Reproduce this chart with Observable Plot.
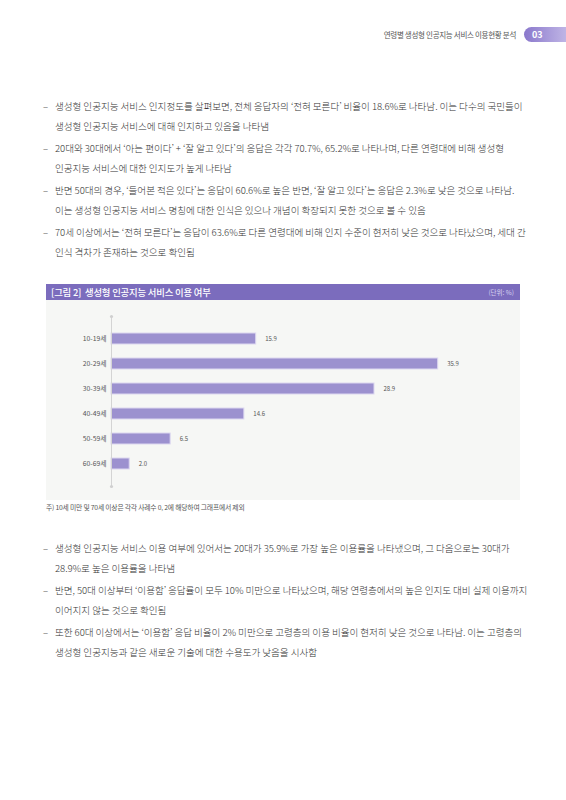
<!DOCTYPE html>
<html>
<head>
<meta charset="utf-8">
<script src="https://cdn.jsdelivr.net/npm/d3@7"></script>
<script src="https://cdn.jsdelivr.net/npm/@observablehq/plot@0.6"></script>
<style>
  html, body { margin: 0; padding: 0; background: #fff; }
  body { width: 566px; height: 800px; position: relative; overflow: hidden;
         font-family: "Noto Sans CJK KR", "Noto Sans", sans-serif; color: #333; }
  .abs { position: absolute; white-space: nowrap; }
  .hdr { font-size: 7.5px; color: #555; letter-spacing: -0.3px; }
  .badge { left: 524px; top: 27px; width: 50px; height: 15px; border-radius: 8px;
           background: linear-gradient(90deg, #8a78cc, #c9c0ea); color: #fff;
           font-size: 9px; font-weight: bold; line-height: 15px; padding-left: 8px; box-sizing: border-box; }
  .p { font-size: 9.6px; color: #333; letter-spacing: -0.06px; font-weight: 300; }
  .dash { left: 43px; }
  .tbar { left: 46px; top: 284px; width: 474px; height: 16px; background: #7b6cbd; }
  .ttl { left: 51px; top: 284px; font-size: 9.4px; line-height: 16px; color: #fff; font-weight: 500; letter-spacing: -0.2px; }
  .unit { right: 52px; top: 284px; font-size: 6.5px; line-height: 16px; color: #d8d2f0; }
  .chartbg { left: 46px; top: 300px; width: 474px; height: 200px; background: #f6f7f5; }
  #chart { position: absolute; left: 46px; top: 300px; }
  .note { left: 46px; top: 502px; font-size: 6.8px; color: #555; letter-spacing: -0.2px; }
</style>
</head>
<body>
<div class="abs hdr" style="right:50px; top:27px; line-height:15px;">연령별 생성형 인공지능 서비스 이용현황 분석</div>
<div class="abs badge">03</div>

<div id="text1"></div>

<div class="abs tbar"></div>
<div class="abs ttl">[그림 2]&nbsp;&nbsp;생성형 인공지능 서비스 이용 여부</div>
<div class="abs unit" style="right:52px;">(단위: %)</div>
<div class="abs chartbg"></div>
<div id="chart"></div>
<div class="abs note">주) 10세 미만 및 70세 이상은 각각 사례수 0, 2에 해당하여 그래프에서 제외</div>

<div id="text2"></div>

<script>
const ageGroups = ["10-19세", "20-29세", "30-39세", "40-49세", "50-59세", "60-69세"];
const usageRates = [15.9, 35.9, 28.9, 14.6, 6.5, 2.0];

const para1 = [
  ["생성형 인공지능 서비스 인지정도를 살펴보면, 전체 응답자의 ‘전혀 모른다’ 비율이 18.6%로 나타남. 이는 다수의 국민들이", "생성형 인공지능 서비스에 대해 인지하고 있음을 나타냄"],
  ["20대와 30대에서 ‘아는 편이다’ + ‘잘 알고 있다’의 응답은 각각 70.7%, 65.2%로 나타나며, 다른 연령대에 비해 생성형", "인공지능 서비스에 대한 인지도가 높게 나타남"],
  ["반면 50대의 경우, ‘들어본 적은 있다’는 응답이 60.6%로 높은 반면, ‘잘 알고 있다’는 응답은 2.3%로 낮은 것으로 나타남.", "이는 생성형 인공지능 서비스 명칭에 대한 인식은 있으나 개념이 확장되지 못한 것으로 볼 수 있음"],
  ["70세 이상에서는 ‘전혀 모른다’는 응답이 63.6%로 다른 연령대에 비해 인지 수준이 현저히 낮은 것으로 나타났으며, 세대 간", "인식 격차가 존재하는 것으로 확인됨"]
];
const para2 = [
  ["생성형 인공지능 서비스 이용 여부에 있어서는 20대가 35.9%로 가장 높은 이용률을 나타냈으며, 그 다음으로는 30대가", "28.9%로 높은 이용률을 나타냄"],
  ["반면, 50대 이상부터 ‘이용함’ 응답률이 모두 10% 미만으로 나타났으며, 해당 연령층에서의 높은 인지도 대비 실제 이용까지", "이어지지 않는 것으로 확인됨"],
  ["또한 60대 이상에서는 ‘이용함’ 응답 비율이 2% 미만으로 고령층의 이용 비율이 현저히 낮은 것으로 나타남. 이는 고령층의", "생성형 인공지능과 같은 새로운 기술에 대한 수용도가 낮음을 시사함"]
];

function renderParas(container, paras, top0) {
  const el = document.getElementById(container);
  let y = top0;
  paras.forEach(lines => {
    lines.forEach((line, i) => {
      if (i === 0) {
        const d = document.createElement("div");
        d.className = "abs p dash";
        d.style.top = (y - 7) + "px";
        d.textContent = "–";
        el.appendChild(d);
      }
      const s = document.createElement("div");
      s.className = "abs p";
      s.style.left = "55px";
      s.style.top = (y - 7) + "px";
      s.textContent = line;
      el.appendChild(s);
      y += 20.3;
    });
    y += 1.4;
  });
}
renderParas("text1", para1, 106);
renderParas("text2", para2, 548);

const data = ageGroups.map((a, i) => ({age: a, value: usageRates[i]}));

const chart = Plot.plot({
  width: 474,
  height: 200,
  marginLeft: 65,
  marginRight: 45,
  marginTop: 16,
  marginBottom: 14,
  style: {background: "transparent", fontFamily: "'Noto Sans CJK KR', sans-serif"},
  x: {domain: [0, 40], axis: null},
  y: {domain: ageGroups, padding: 0.57, label: null},
  marks: [
    Plot.axisY({tickSize: 0, tickPadding: 5, fontSize: 6.8, color: "#555", label: null}),
    Plot.barX(data, {x: "value", y: "age", fill: "#9c91cf", stroke: "#dcd7f0", strokeWidth: 1}),
    Plot.ruleX([0], {stroke: "#d4d4d4", strokeWidth: 1}),
    Plot.dot([0], {x: d => d, frameAnchor: "top", r: 1.6, fill: "#d0d0d0", stroke: "none"}),
    Plot.dot([0], {x: d => d, frameAnchor: "bottom", r: 1.6, fill: "#d0d0d0", stroke: "none"}),
    Plot.text(data, {x: "value", y: "age", text: d => d.value.toFixed(1), dx: 9, textAnchor: "start", fontSize: 6, fill: "#555"})
  ]
});
document.getElementById("chart").appendChild(chart);
</script>
</body>
</html>
